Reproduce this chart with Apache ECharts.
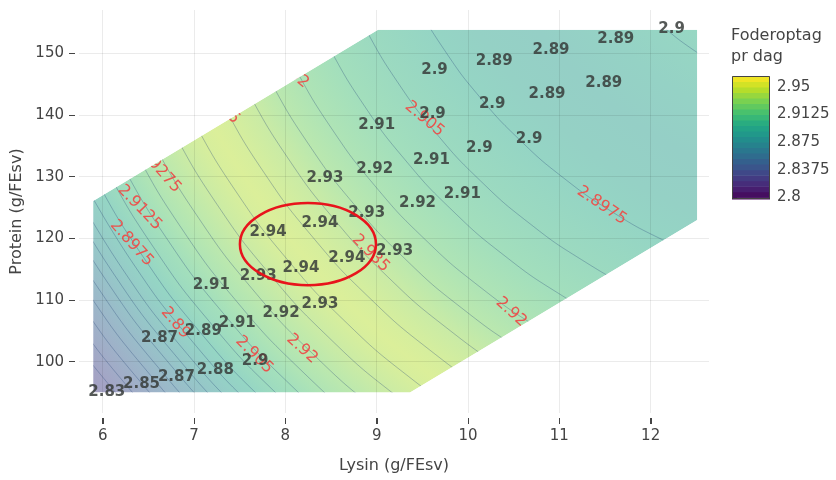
<!DOCTYPE html>
<html><head><meta charset="utf-8">
<script src="https://cdn.jsdelivr.net/npm/echarts@6/dist/echarts.min.js"></script>
<style>html,body{margin:0;padding:0;background:#fff}#c{width:836px;height:480px}</style>
</head><body><div id="c"></div>
<script>
// ---------- data ----------
const xTicks = [6, 7, 8, 9, 10, 11, 12];
const yTicks = [100, 110, 120, 130, 140, 150];
const colorbarTicks = [2.8, 2.8375, 2.875, 2.9125, 2.95];

// feasible region (hexagon) vertices
const regionLysin   = [5.895, 5.895, 9.015, 12.51, 12.51, 9.365];
const regionProtein = [95.0, 126.05, 153.8, 153.8, 122.97, 95.0];

// labelled design points
const pointLysin = [12.229, 11.618, 10.909, 10.287, 9.633, 11.487, 10.865, 10.265, 9.611, 9.0,
  10.669, 10.124, 9.6, 8.978, 8.433, 9.938, 9.447, 8.891, 8.378, 7.811,
  9.196, 8.673, 8.171, 7.702, 7.189, 8.378, 7.953, 7.473, 7.102, 6.622,
  7.669, 7.233, 6.807, 6.425, 6.044];
const pointProtein = [153.87, 152.26, 150.48, 148.71, 147.26, 145.16, 143.39, 141.77, 140.16, 138.39,
  136.13, 134.68, 132.74, 131.29, 129.84, 127.10, 125.65, 124.03, 122.42, 120.97,
  117.90, 116.77, 115.16, 113.87, 112.42, 109.35, 107.90, 106.29, 105.0, 103.87,
  100.16, 98.71, 97.58, 96.29, 95.0];
const pointValues = [2.9, 2.89, 2.89, 2.89, 2.9, 2.89, 2.89, 2.9, 2.9, 2.91,
  2.9, 2.9, 2.91, 2.92, 2.93, 2.91, 2.92, 2.93, 2.94, 2.94,
  2.93, 2.94, 2.94, 2.93, 2.91, 2.93, 2.92, 2.91, 2.89, 2.87,
  2.9, 2.88, 2.87, 2.85, 2.83];

// response surface: value along distance from a far centre (fraction of distance to lower-left corner)
const fieldCenter = [14.803, 200.806];
const fieldProfile = [[0.0, 2.9], [0.345, 2.900], [0.402, 2.893], [0.450, 2.889], [0.498, 2.892],
  [0.535, 2.8975], [0.589, 2.905], [0.629, 2.9125], [0.667, 2.921], [0.694, 2.929], [0.718, 2.937],
  [0.745, 2.9435], [0.761, 2.946], [0.777, 2.9435], [0.799, 2.937], [0.821, 2.929], [0.840, 2.921],
  [0.857, 2.9125], [0.873, 2.905], [0.886, 2.8975], [0.898, 2.89], [0.919, 2.875], [0.939, 2.86],
  [0.961, 2.845], [0.986, 2.83], [1.0, 2.825]];

// contour lines (lysin, protein)
const contourLevels = [2.8975, 2.8975, 2.905, 2.9125, 2.92, 2.9275, 2.935, 2.9425,
  2.9425, 2.935, 2.9275, 2.92, 2.9125, 2.905, 2.8975, 2.89, 2.8825, 2.875, 2.8675, 2.86, 2.8525, 2.845, 2.8375, 2.83];
const contourPaths = [
  [[12.742,148.02],[12.438,150.85],[12.153,154.11],[11.887,157.69]],
  [[12.718,116.08],[12.130,119.77],[11.572,124.35],[11.049,129.76],[10.567,135.95],[10.132,142.85],[9.748,150.39],[9.419,158.48],[9.233,164.14]],
  [[12.505,107.44],[11.857,111.51],[11.242,116.55],[10.666,122.51],[10.135,129.34],[9.656,136.94],[9.232,145.25],[8.870,154.16],[8.665,160.40]],
  [[12.352,101.23],[11.661,105.56],[11.005,110.95],[10.390,117.30],[9.824,124.58],[9.313,132.69],[8.862,141.55],[8.475,151.05],[8.256,157.71]],
  [[12.203,95.17],[11.470,99.76],[10.774,105.48],[10.122,112.22],[9.521,119.94],[8.979,128.54],[8.500,137.94],[8.090,148.03],[7.857,155.09]],
  [[12.098,90.92],[11.336,95.70],[10.612,101.65],[9.934,108.66],[9.309,116.69],[8.745,125.64],[8.247,135.42],[7.820,145.91],[7.578,153.25]],
  [[12.005,87.13],[11.216,92.08],[10.468,98.23],[9.766,105.48],[9.119,113.79],[8.536,123.05],[8.021,133.16],[7.580,144.01],[7.329,151.61]],
  [[11.900,82.89],[11.082,88.02],[10.306,94.40],[9.578,101.93],[8.907,110.55],[8.302,120.15],[7.767,130.64],[7.310,141.89],[7.050,149.77]],
  [[10.920,83.09],[10.109,89.75],[9.349,97.60],[8.649,106.60],[8.018,116.62],[7.460,127.57],[6.982,139.32],[6.711,147.54]],
  [[10.810,79.76],[9.976,86.60],[9.195,94.68],[8.475,103.93],[7.826,114.24],[7.252,125.49],[6.761,137.58],[6.482,146.03]],
  [[9.843,83.45],[9.040,91.76],[8.301,101.26],[7.634,111.85],[7.044,123.42],[6.539,135.83],[6.253,144.52]],
  [[9.728,80.72],[8.906,89.22],[8.149,98.94],[7.466,109.78],[6.863,121.62],[6.347,134.32],[6.054,143.21]],
  [[9.624,78.26],[8.785,86.93],[8.013,96.86],[7.316,107.91],[6.700,119.99],[6.173,132.96],[5.874,142.03]],
  [[8.678,84.89],[7.892,95.00],[7.182,106.25],[6.556,118.55],[6.019,131.74],[5.715,140.98]],
  [[8.584,83.11],[7.786,93.38],[7.065,104.80],[6.429,117.29],[5.884,130.68],[5.575,140.06]],
  [[8.503,81.59],[7.695,91.98],[6.965,103.56],[6.320,116.20],[5.769,129.78]],
  [[8.422,80.06],[7.604,90.59],[6.865,102.31],[6.212,115.12],[5.653,128.87]],
  [[8.355,78.79],[7.528,89.43],[6.781,101.28],[6.121,114.22],[5.557,128.11]],
  [[8.288,77.52],[7.452,88.27],[6.698,100.24],[6.031,113.32],[5.461,127.35]],
  [[8.214,76.12],[7.369,86.99],[6.606,99.10],[5.932,112.33],[5.355,126.52]],
  [[8.140,74.73],[7.285,85.72],[6.514,97.96],[5.832,111.33],[5.249,125.69]],
  [[7.194,84.33],[6.414,96.71],[5.724,110.25],[5.133,124.78]],
  [[7.096,82.82],[6.305,95.37],[5.606,109.08],[5.008,123.79]],
  [[6.997,81.31],[6.196,94.02],[5.488,107.91],[4.883,122.81]]
];

// contour labels
const contourLabelText = ['2.8975', '2.905', '2.92', '2.935', '2.92', '2.9425', '2.9275', '2.9125', '2.8975', '2.89', '2.905', '2.92'];
const contourLabelLysin = [11.465, 9.524, 10.473, 8.934, 8.084, 7.254, 6.622, 6.404, 6.316, 6.796, 7.658, 8.182];
const contourLabelProtein = [125.32, 139.35, 108.06, 117.58, 146.69, 142.18, 131.13, 125.0, 119.19, 106.29, 101.13, 102.10];
const contourLabelAngle = [34, 40, 42, 45, 40, 45, 48, 46, 48, 50, 45, 42];

// highlighted optimum
const highlightCenter = [8.247, 119.06];
const highlightRadius = [0.745, 6.65];

// ---------- styling ----------
const FONT = '"DejaVu Sans", Verdana, sans-serif';
const X_MIN = 5.740, X_MAX = 12.639, Y_MIN = 91.68, Y_MAX = 157.02;
const CB_MIN = 2.7975, CB_MAX = 2.965;
const VIR = [[68,1,84],[72,36,117],[65,68,135],[53,95,141],[42,120,142],[33,145,140],[34,168,132],[68,191,112],[122,209,81],[189,223,38],[253,231,37]];
function viridis(t) {
  t = Math.max(0, Math.min(1, t));
  const x = t * 10, i = Math.min(9, Math.floor(x)), f = x - i;
  return VIR[i].map((c, k) => c + (VIR[i + 1][k] - c) * f);
}
function norm(v) { return (v - CB_MIN) / (CB_MAX - CB_MIN); }
function solid(v) { const c = viridis(norm(v)); return 'rgb(' + c.map(Math.round).join(',') + ')'; }
function faded(v) { const a = 0.48; const c = viridis(norm(v)); return 'rgb(' + c.map(ch => Math.round(255 - (255 - ch) * a)).join(',') + ')'; }

const fillSeries = {
  type: 'custom', xAxisIndex: 0, yAxisIndex: 0, z: 1, silent: true,
  data: [[regionLysin[0], regionProtein[0]]],
  renderItem(params, api) {
    const pts = regionLysin.map((l, i) => api.coord([l, regionProtein[i]]));
    const c = api.coord(fieldCenter);
    const r = Math.hypot(pts[0][0] - c[0], pts[0][1] - c[1]);
    const stops = fieldProfile.map(([f, v]) => ({ offset: f, color: faded(v) }));
    return { type: 'polygon', shape: { points: pts },
      style: { fill: new echarts.graphic.RadialGradient(c[0], c[1], r, stops, true) } };
  }
};

const contourSeries = contourPaths.map((path, i) => ({
  type: 'line', name: 'c' + contourLevels[i], xAxisIndex: 0, yAxisIndex: 0, data: path,
  smooth: 0.5, symbol: 'none', showSymbol: false, z: 2, silent: true, clip: true,
  lineStyle: { color: 'rgba(45,75,125,0.33)', width: 1 }, emphasis: { disabled: true }
}));

const contourLabelSeries = {
  type: 'custom', xAxisIndex: 0, yAxisIndex: 0, z: 3, silent: true,
  data: contourLabelLysin.map((l, i) => [l, contourLabelProtein[i]]),
  renderItem(params, api) {
    const i = params.dataIndex;
    const p = api.coord([api.value(0), api.value(1)]);
    return { type: 'text', x: p[0], y: p[1], rotation: -contourLabelAngle[i] * Math.PI / 180,
      style: { text: contourLabelText[i], fill: '#e9554f', fontSize: 16, fontFamily: FONT,
        align: 'center', verticalAlign: 'middle' } };
  }
};

const maskSeries = {
  type: 'custom', xAxisIndex: 0, yAxisIndex: 0, z: 4, silent: true,
  data: [[regionLysin[0], regionProtein[0]]],
  renderItem(params, api) {
    const cs = params.coordSys, m = 2;
    const x0 = cs.x - m, y0 = cs.y - m, x1 = cs.x + cs.width + m, y1 = cs.y + cs.height + m;
    const pts = regionLysin.map((l, i) => api.coord([l, regionProtein[i]]));
    let d = 'M' + x0 + ' ' + y0 + ' L' + x0 + ' ' + y1 + ' L' + x1 + ' ' + y1 + ' L' + x1 + ' ' + y0 + ' Z ';
    d += 'M' + pts.map(p => p[0].toFixed(2) + ' ' + p[1].toFixed(2)).join(' L') + ' Z';
    return { type: 'path', shape: { pathData: d }, style: { fill: '#ffffff' } };
  }
};

const pointLabelSeries = {
  type: 'custom', xAxisIndex: 0, yAxisIndex: 0, z: 6, silent: true,
  data: pointLysin.map((l, i) => [l, pointProtein[i]]),
  renderItem(params, api) {
    const i = params.dataIndex;
    const p = api.coord([api.value(0), api.value(1)]);
    return { type: 'text', x: p[0], y: p[1],
      style: { text: String(pointValues[i]), fill: 'rgba(55,60,58,0.85)', fontSize: 15, fontWeight: 'bold',
        fontFamily: FONT, align: 'center', verticalAlign: 'middle' } };
  }
};

const ellipseSeries = {
  type: 'custom', xAxisIndex: 0, yAxisIndex: 0, z: 7, silent: true,
  data: [highlightCenter],
  renderItem(params, api) {
    const c = api.coord([api.value(0), api.value(1)]);
    const s = api.size(highlightRadius);
    return { type: 'ellipse', shape: { cx: c[0], cy: c[1], rx: s[0], ry: s[1] },
      style: { fill: 'none', stroke: '#e8141c', lineWidth: 2.5 } };
  }
};

// colour bar bands
const bandEdges = [CB_MIN];
for (let k = 0; k <= 21; k++) bandEdges.push(+(2.8 + k * 0.0075).toFixed(4));
bandEdges.push(CB_MAX);
const colorbarSeries = {
  type: 'custom', xAxisIndex: 1, yAxisIndex: 1, z: 2, silent: true,
  data: bandEdges.slice(0, -1).map((lo, i) => [0, lo, bandEdges[i + 1]]),
  renderItem(params, api) {
    const lo = api.value(1), hi = api.value(2);
    const a = api.coord([0, hi]), b = api.coord([1, lo]);
    const mid = Math.max(2.8, Math.min(2.965, (lo + hi) / 2));
    return { type: 'rect', shape: { x: a[0], y: a[1], width: b[0] - a[0], height: b[1] - a[1] + 0.5 },
      style: { fill: solid(mid) } };
  }
};
const colorbarFrame = {
  type: 'custom', xAxisIndex: 1, yAxisIndex: 1, z: 3, silent: true,
  data: [[0, CB_MIN]],
  renderItem(params, api) {
    const cs = params.coordSys;
    return { type: 'rect', shape: { x: cs.x + 0.5, y: cs.y + 0.5, width: cs.width - 1, height: cs.height - 1 },
      style: { fill: 'none', stroke: '#444', lineWidth: 1 } };
  }
};

const chart = echarts.init(document.getElementById('c'), null, { renderer: 'canvas', width: 836, height: 480 });
chart.setOption({
  animation: false,
  backgroundColor: '#ffffff',
  textStyle: { fontFamily: FONT },
  title: { text: 'Foderoptag\npr dag', left: 731, top: 25, padding: 0,
    textStyle: { fontSize: 16, fontWeight: 'normal', color: '#444', fontFamily: FONT, lineHeight: 21 } },
  grid: [
    { left: 79, top: 10, width: 630, height: 403 },
    { left: 732, top: 76, width: 38, height: 123 }
  ],
  xAxis: [
    { type: 'value', gridIndex: 0, min: X_MIN, max: X_MAX, z: 5, offset: 5,
      axisLine: { show: false },
      axisTick: { show: true, length: 6, customValues: xTicks, lineStyle: { color: '#444' } },
      axisLabel: { customValues: xTicks, fontSize: 15, color: '#444', fontFamily: FONT, margin: 11 },
      splitLine: { show: true, lineStyle: { color: 'rgba(0,0,0,0.08)', width: 1 } },
      name: 'Lysin (g/FEsv)', nameLocation: 'middle', nameGap: 40,
      nameTextStyle: { fontSize: 16, color: '#444', fontFamily: FONT } },
    { type: 'value', gridIndex: 1, min: 0, max: 1, show: false }
  ],
  yAxis: [
    { type: 'value', gridIndex: 0, min: Y_MIN, max: Y_MAX, z: 5, offset: 4,
      axisLine: { show: false },
      axisTick: { show: true, length: 6, customValues: yTicks, lineStyle: { color: '#444' } },
      axisLabel: { customValues: yTicks, fontSize: 15, color: '#444', fontFamily: FONT, margin: 11 },
      splitLine: { show: true, lineStyle: { color: 'rgba(0,0,0,0.08)', width: 1 } },
      name: 'Protein (g/FEsv)', nameLocation: 'middle', nameGap: 46,
      nameTextStyle: { fontSize: 16, color: '#444', fontFamily: FONT } },
    { type: 'value', gridIndex: 1, min: CB_MIN, max: CB_MAX, position: 'right',
      axisLine: { show: false },
      axisTick: { show: true, length: 5, customValues: colorbarTicks, lineStyle: { color: '#444' } },
      axisLabel: { customValues: colorbarTicks, fontSize: 15, color: '#444', fontFamily: FONT, margin: 7,
        formatter: v => String(+(+v).toFixed(4)) },
      splitLine: { show: false } }
  ],
  series: [fillSeries].concat(contourSeries, [contourLabelSeries, maskSeries, pointLabelSeries, ellipseSeries, colorbarSeries, colorbarFrame])
});

// fallback x tick marks through the x scale (same pixels as the axis ticks)
try {
  const gb = chart.convertToPixel({ yAxisIndex: 0 }, Y_MIN);
  chart.setOption({
    graphic: xTicks.map(v => {
      const x = chart.convertToPixel({ xAxisIndex: 0 }, v);
      return { type: 'rect', z: 100, silent: true,
        shape: { x: Math.round(x), y: gb + 5, width: 1, height: 6 }, style: { fill: '#444' } };
    })
  });
} catch (e) {}
</script>
</body></html>
